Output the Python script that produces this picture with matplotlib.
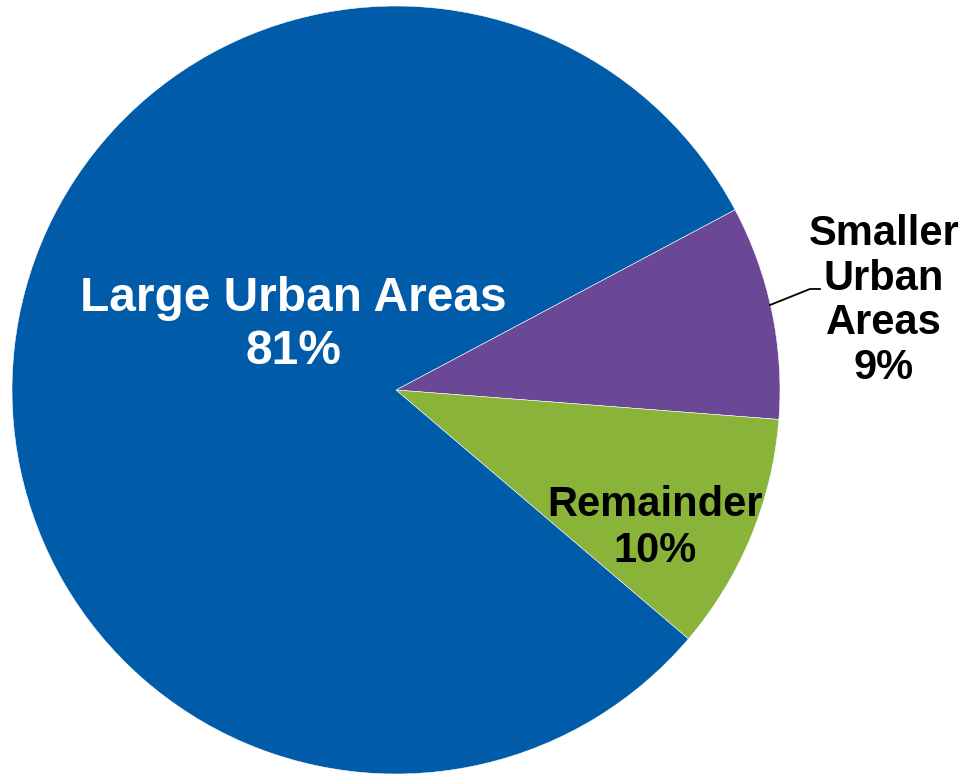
import matplotlib.pyplot as plt

# share of total, clockwise from the upper right
labels = ['Smaller\nUrban\nAreas', 'Remainder', 'Large Urban Areas']
shares = [9, 10, 81]
colors = ['#6A4896', '#8AB339', '#005BA8']

plt.rcParams['font.family'] = ['Liberation Sans', 'DejaVu Sans']

fig = plt.figure(figsize=(9.63, 7.74), dpi=100)
ax = fig.add_axes([0, 0, 1, 1])

cx, cy, r = 396, 384, 384
wedges, _ = ax.pie(shares, colors=colors, startangle=28, counterclock=False,
                   center=(cx, cy), radius=r, frame=True,
                   wedgeprops=dict(edgecolor='white', linewidth=0.4))
ax.set_xlim(0, 963)
ax.set_ylim(0, 774)
ax.set_aspect('equal')
ax.axis('off')

ax.text(293, 774 - 325, f'{labels[2]}\n{shares[2]}%', color='white',
        fontsize=34.5, fontweight='bold', ha='center', va='center', linespacing=1.25)
ax.text(655, 774 - 528, f'{labels[1]}\n{shares[1]}%', color='black',
        fontsize=30, fontweight='bold', ha='center', va='center', linespacing=1.2)
ax.text(884, 774 - 301, f'{labels[0]}\n{shares[0]}%', color='black',
        fontsize=30, fontweight='bold', ha='center', va='center', linespacing=1.15)

# leader line for the small slice
ax.plot([770, 810, 820], [774 - 305, 774 - 289, 774 - 289], color='black', lw=1.3)

fig.savefig('out.png', dpi=100)
